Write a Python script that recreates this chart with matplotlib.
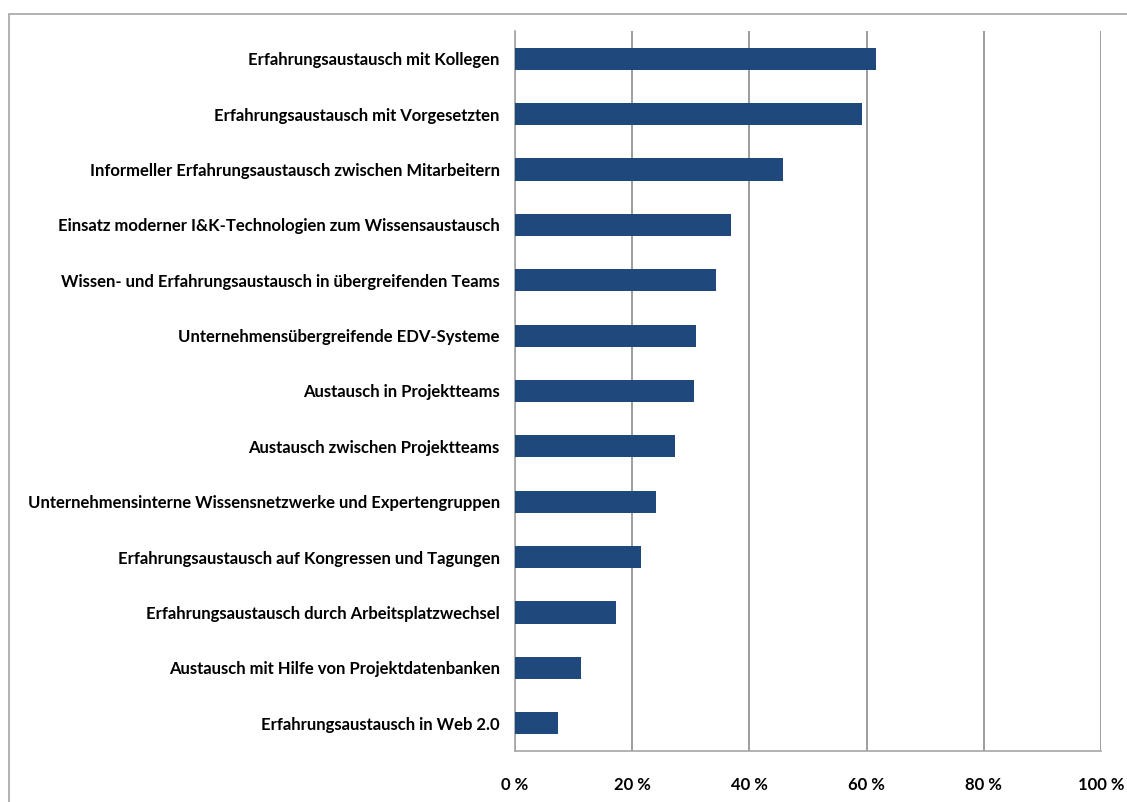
import matplotlib.pyplot as plt
from matplotlib.patches import Rectangle

plt.rcParams['font.family'] = ['Lato', 'DejaVu Sans']

# Daten (von oben nach unten)
labels = [
    'Erfahrungsaustausch mit Kollegen',
    'Erfahrungsaustausch mit Vorgesetzten',
    'Informeller Erfahrungsaustausch zwischen Mitarbeitern',
    'Einsatz moderner I&K-Technologien zum Wissensaustausch',
    'Wissen- und Erfahrungsaustausch in übergreifenden Teams',
    'Unternehmensübergreifende EDV-Systeme',
    'Austausch in Projektteams',
    'Austausch zwischen Projektteams',
    'Unternehmensinterne Wissensnetzwerke und Expertengruppen',
    'Erfahrungsaustausch auf Kongressen und Tagungen',
    'Erfahrungsaustausch durch Arbeitsplatzwechsel',
    'Austausch mit Hilfe von Projektdatenbanken',
    'Erfahrungsaustausch in Web 2.0',
]
values = [61.6, 59.2, 45.7, 36.9, 34.3, 30.9, 30.5, 27.3, 24.1, 21.5, 17.2, 11.3, 7.3]
ticks = [0, 20, 40, 60, 80, 100]
tick_labels = ['0 %', '20 %', '40 %', '60 %', '80 %', '100 %']

W, H = 1127, 802
fig = plt.figure(figsize=(W / 100, H / 100), dpi=100)
ax = fig.add_axes([515 / W, 1 - 751 / H, (1101 - 515) / W, (751 - 31) / H])

pos = list(range(len(labels)))
ax.barh(pos, values, height=0.4, color='#1F497D', zorder=3)
ax.set_ylim(len(labels) - 0.5, -0.5)
ax.set_xlim(0, 100)

ax.set_yticks(pos)
ax.set_yticklabels(labels, fontsize=12, fontweight='bold')
ax.set_xticks(ticks)
ax.set_xticklabels(tick_labels, fontsize=12, fontweight='bold')
ax.tick_params(axis='both', length=0)
ax.tick_params(axis='y', pad=11)
ax.tick_params(axis='x', pad=19)

ax.grid(axis='x', color='#8c8c8c', linewidth=1.2, zorder=0)
for s in ['top', 'right']:
    ax.spines[s].set_visible(False)
for s in ['left', 'bottom']:
    ax.spines[s].set_color('#a6a6a6')
    ax.spines[s].set_linewidth(1.2)

# Rahmen um das Diagramm
fig.patches.append(Rectangle((9 / W, -0.1), 1.2, 1 - 14 / H + 0.1,
                             transform=fig.transFigure, fill=False,
                             edgecolor='#a6a6a6', linewidth=1.2))

fig.savefig('out.png', dpi=100)
